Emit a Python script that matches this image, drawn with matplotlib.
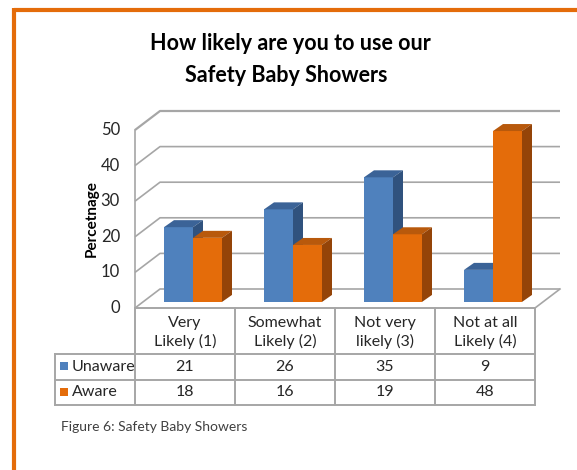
#!/usr/bin/env python3
import matplotlib
matplotlib.use('Agg')
import matplotlib.pyplot as plt
from matplotlib.patches import Polygon, Rectangle

plt.rcParams['font.family'] = ['Lato', 'DejaVu Sans']

# data
categories = ['Very\nLikely (1)', 'Somewhat\nLikely (2)', 'Not very\nlikely (3)', 'Not at all\nLikely (4)']
series_names = ['Unaware', 'Aware']
unaware = [21, 26, 35, 9]
aware = [18, 16, 19, 48]
yticks = [0, 10, 20, 30, 40, 50]

front_colors = ['#4F81BD', '#E46C0A']
top_colors = ['#3B6397', '#B8590C']
side_colors = ['#30527E', '#944408']
grid_color = '#A6A6A6'
text_color = '#262626'

# layout (pixels)
W, H = 577, 470
FL, FR = 135, 535      # floor front edge
Y0 = 308               # front zero line
PXU = 3.56             # px per unit
DX, DY = 25, 19        # floor depth
BAR_F = 0.32           # bar front plane, fraction of depth
BAR_W = 0.29
BDX, BDY = 10, 7       # bar depth
ROWS = [308, 353.5, 380, 405]
LEFT_COL = 55

fig = plt.figure(figsize=(W / 100, H / 100), dpi=100)

# background canvas in pixels
bg = fig.add_axes([0, 0, 1, 1])
bg.set_xlim(0, W)
bg.set_ylim(H, 0)
bg.axis('off')

# chart axes: bar front plane
colw = (FR - FL) / len(categories)
left_px = FL + BAR_F * DX
bot_px = Y0 - BAR_F * DY
ax = fig.add_axes([left_px / W, (H - bot_px) / H, (FR - FL) / W, 50 * PXU / H])
ax.set_xlim(0, len(categories))
ax.set_ylim(0, 50)
ax.axis('off')

ddx, ddy = DX / colw, DY / PXU
fx0, fy0 = -BAR_F * ddx, -BAR_F * ddy
bx0, by0 = fx0 + ddx, fy0 + ddy
n = len(categories)

# walls and gridlines
for v in yticks:
    lw = 1.6 if v == yticks[-1] else 1.2
    ax.plot([fx0, bx0, n + bx0], [v + fy0, v + by0, v + by0], color=grid_color,
            lw=lw, clip_on=False, solid_capstyle='butt')
ax.plot([fx0, fx0], [fy0, yticks[-1] + fy0], color=grid_color, lw=1.2, clip_on=False)
ax.plot([n + fx0, n + bx0], [fy0, by0], color=grid_color, lw=1.2, clip_on=False)

# y tick labels
for v in yticks:
    bg.text(FL - 15, Y0 - v * PXU, str(v), ha='right', va='center',
            fontsize=12, color=text_color)

bg.text(92, 219, 'Percetnage', rotation=90, ha='center', va='center',
        fontsize=11, fontweight='bold', color='black')

# bars
bdx, bdy = BDX / colw, BDY / PXU
for s, vals in enumerate([unaware, aware]):
    for i, v in enumerate(vals):
        x0 = i + 0.5 - BAR_W + s * BAR_W
        x1 = x0 + BAR_W
        ax.add_patch(Rectangle((x0, 0), BAR_W, v, facecolor=front_colors[s],
                               edgecolor='none', clip_on=False, zorder=3))
        ax.add_patch(Polygon([(x0, v), (x1, v), (x1 + bdx, v + bdy), (x0 + bdx, v + bdy)],
                             closed=True, facecolor=top_colors[s], edgecolor='none',
                             clip_on=False, zorder=3))
        ax.add_patch(Polygon([(x1, 0), (x1, v), (x1 + bdx, v + bdy), (x1 + bdx, bdy)],
                             closed=True, facecolor=side_colors[s], edgecolor='none',
                             clip_on=False, zorder=3))

# data table
tl = dict(color=grid_color, lw=1.4, solid_capstyle='projecting')
bg.plot([FL, FR], [ROWS[0], ROWS[0]], **tl)
for r in ROWS[1:]:
    bg.plot([LEFT_COL, FR], [r, r], **tl)
for i in range(n + 1):
    x = FL + i * colw
    bg.plot([x, x], [ROWS[0], ROWS[-1]], **tl)
bg.plot([LEFT_COL, LEFT_COL], [ROWS[1], ROWS[-1]], **tl)

for i, cat in enumerate(categories):
    cx = FL + (i + 0.5) * colw
    bg.text(cx, (ROWS[0] + ROWS[1]) / 2 + 2, cat, ha='center', va='center',
            fontsize=11.5, color=text_color, linespacing=1.35)
    for s, vals in enumerate([unaware, aware]):
        cy = (ROWS[s + 1] + ROWS[s + 2]) / 2
        bg.text(cx, cy, str(vals[i]), ha='center', va='center',
                fontsize=11.5, color=text_color)

for s, name in enumerate(series_names):
    cy = (ROWS[s + 1] + ROWS[s + 2]) / 2
    bg.add_patch(Rectangle((60, cy - 4.5), 8, 8, facecolor=front_colors[s], edgecolor='none'))
    bg.text(72, cy, name, ha='left', va='center', fontsize=11.5, color=text_color)

# title and caption
bg.text(290, 43, 'How likely are you to use our', ha='center', va='center',
        fontsize=15.5, fontweight='bold', color='black')
bg.text(286, 75, 'Safety Baby Showers', ha='center', va='center',
        fontsize=15.5, fontweight='bold', color='black')
bg.text(61, 427, 'Figure 6: Safety Baby Showers', ha='left', va='center',
        fontsize=10, color='#404040')

# orange chart border (top and left)
bg.plot([14, W], [9.5, 9.5], color='#E46C0A', lw=3, solid_capstyle='butt')
bg.plot([14, 14], [8, H], color='#E46C0A', lw=3, solid_capstyle='butt')

fig.savefig('out.png', dpi=100)
